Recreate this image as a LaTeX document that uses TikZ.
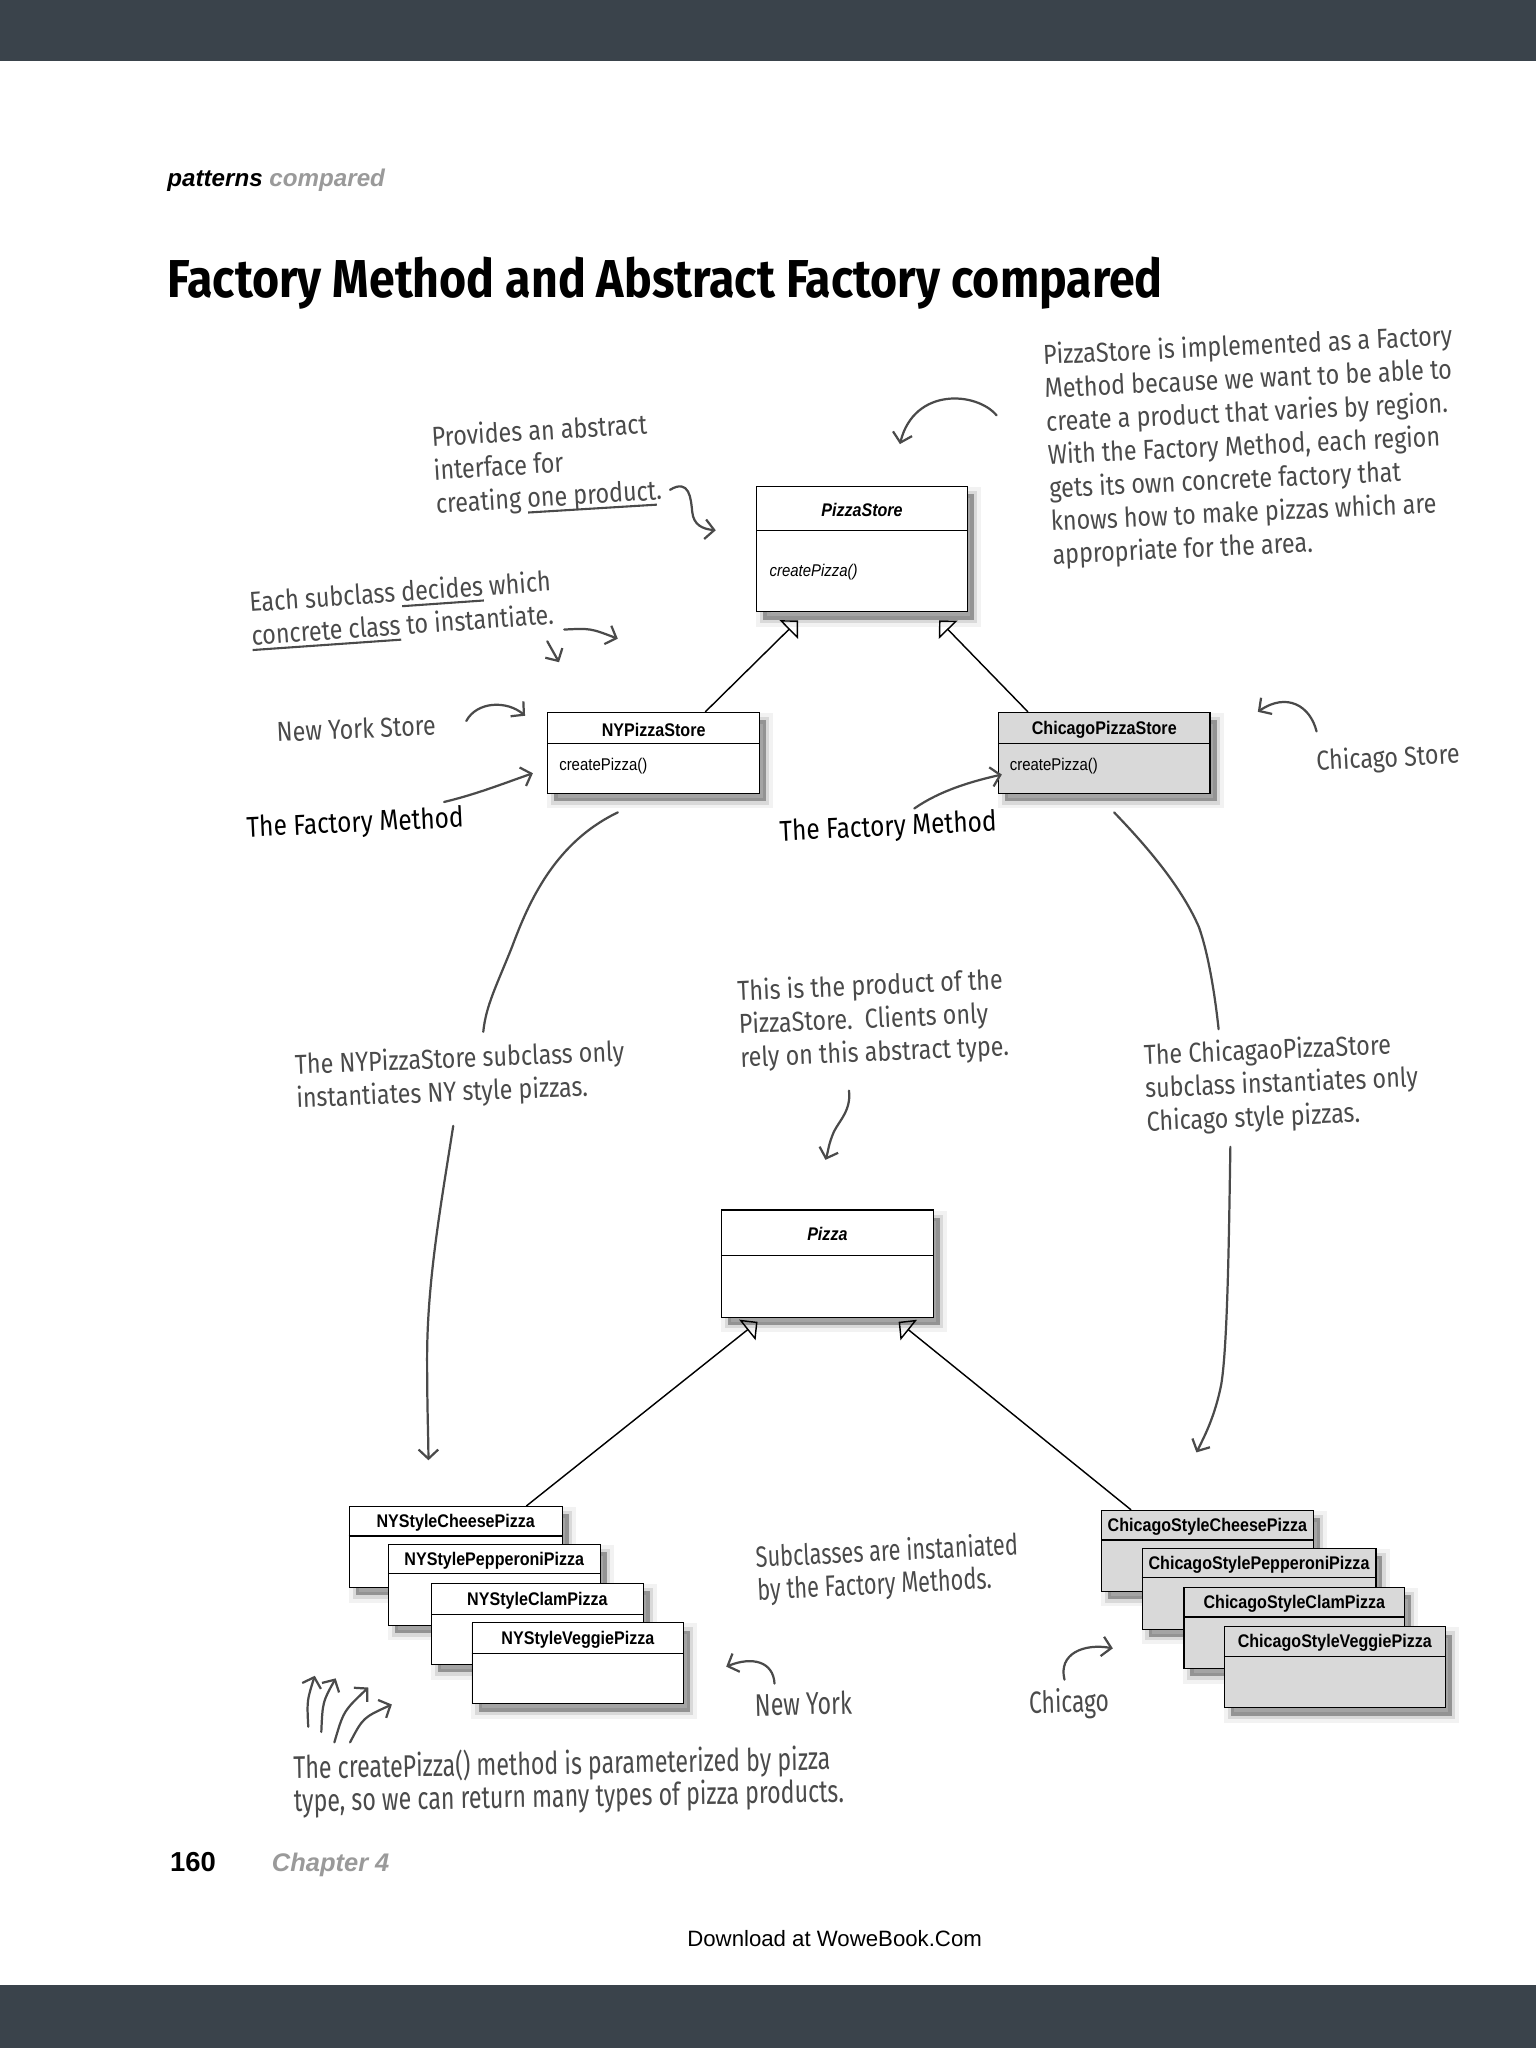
\documentclass[tikz,border=0pt]{standalone}
\usepackage{fontspec}
\usepackage{graphicx}
\setmainfont{Liberation Sans}
\newfontfamily\umlf[FakeStretch=0.88]{Liberation Sans}
\newfontfamily\handf[FakeStretch=0.85]{Fira Sans}
\newfontfamily\handn[FakeStretch=0.74]{Fira Sans}
\newfontfamily\titlef{Fira Sans}
\usetikzlibrary{arrows.meta,shadows,calc}
\definecolor{bar}{HTML}{3A434B}
\definecolor{hand}{HTML}{4A4A4A}
\definecolor{hdrgray}{HTML}{9A9A9A}
\definecolor{chi}{HTML}{D9D9D9}
\newcommand\hul[1]{\setbox0\hbox{#1}\rlap{\rule[-4.5pt]{\wd0}{1.6pt}}\box0\relax}
\newcommand\umlbox[8]{%
  \node[umlbox, fill=#7, minimum width=#4pt, minimum height=#5pt] (#1) at (#2,#3) {};
  \draw[umlline] ($(#1.north west)+(0,#6)$) -- ($(#1.north east)+(0,#6)$);
  \node[umltitle] (#1-t) at ($(#1.north)+(0,#6/2+1.5)$) {#8};
}
\begin{document}
\begin{tikzpicture}[x=1pt,y=-1pt,
  umlbox/.style={draw=black, line width=0.9pt, anchor=north west, inner sep=0pt,
    general shadow={draw=black, line width=11pt, opacity=.05, shadow xshift=5pt, shadow yshift=-6pt},
    general shadow={draw=black, line width=5pt, opacity=.10, shadow xshift=5pt, shadow yshift=-6pt},
    general shadow={fill=black, opacity=.32, shadow xshift=5pt, shadow yshift=-6pt}},
  umlline/.style={draw=black, line width=0.9pt},
  umltitle/.style={inner sep=0pt, font=\umlf\fontsize{14}{16}\selectfont\bfseries},
  umlop/.style={inner sep=0pt, anchor=base west, font=\umlf\fontsize{13}{15}\selectfont},
  inh/.style={draw=black, line width=1.1pt, -{Triangle[open, length=10pt, width=20pt, line width=1.1pt]}},
  note/.style={anchor=base west, inner sep=0pt, align=left, text=hand, font=\handf\fontsize{21}{25.5}\selectfont},
  narrow/.style={note, font=\handn\fontsize{22.5}{25}\selectfont},
  fm/.style={note, text=black, font=\handf\fontsize{22}{24}\selectfont},
  harrow/.style={draw=hand, line width=1.7pt, line cap=round, line join=round, -{Straight Barb[length=7pt, width=15pt]}},
  hline/.style={draw=hand, line width=1.7pt, line cap=round},
]
\fill[white] (0,0) rectangle (1176,1568);
\useasboundingbox (0,0) rectangle (1176,1568);
\fill[bar] (0,0) rectangle (1176,47);
\fill[bar] (0,1520) rectangle (1176,1568);

% header and title
\node[anchor=base west, inner sep=0pt, font=\fontsize{18.5}{20}\selectfont\bfseries\itshape] (hdr) at (128,143) {patterns \textcolor{hdrgray}{compared}};
\node[anchor=base west, inner sep=0pt] (title) at (128,228) {\resizebox{762pt}{31pt}{\titlef\bfseries Factory Method and Abstract Factory compared}};

% UML boxes
\umlbox{ps}{579}{372}{161}{96}{34}{white}{\itshape PizzaStore}
\node[umlop, font=\umlf\fontsize{13}{15}\selectfont\itshape] (psop) at ($(ps.north west)+(10,69)$) {createPizza()};
\umlbox{nyps}{419}{545}{162}{62}{24}{white}{NYPizzaStore}
\node[umlop] (nypsop) at ($(nyps.north west)+(9,45)$) {createPizza()};
\umlbox{cps}{764}{545}{162}{62}{24}{chi}{ChicagoPizzaStore}
\node[umlop] (cpsop) at ($(cps.north west)+(9,45)$) {createPizza()};
\umlbox{pz}{552}{926}{162}{82}{35}{white}{\itshape Pizza}

\umlbox{nyc}{267}{1153}{163}{62}{23}{white}{NYStyleCheesePizza}
\umlbox{nyp}{297}{1182}{162}{62}{23}{white}{NYStylePepperoniPizza}
\umlbox{nycl}{330}{1212}{162}{62}{24}{white}{NYStyleClamPizza}
\umlbox{nyv}{361}{1242}{162}{62}{24}{white}{NYStyleVeggiePizza}

\umlbox{cc}{843}{1156}{162}{62}{23}{chi}{ChicagoStyleCheesePizza}
\umlbox{cp}{874}{1185}{179}{62}{23}{chi}{ChicagoStylePepperoniPizza}
\umlbox{ccl}{906}{1215}{169}{62}{23}{chi}{ChicagoStyleClamPizza}
\umlbox{cv}{937}{1245}{169}{62}{23}{chi}{ChicagoStyleVeggiePizza}

% inheritance
\coordinate (tA) at (611,475);
\coordinate (tB) at (719,475);
\coordinate (tC) at (580,1012);
\coordinate (tD) at (688,1012);
\draw[inh] ($(nyps.north west)+(121,0)$) -- (tA);
\draw[inh] ($(cps.north west)+(23,0)$) -- (tB);
\draw[inh] ($(nyc.north west)+(136,0)$) -- (tC);
\draw[inh] ($(cc.north west)+(23,0)$) -- (tD);

% notes (anchor = baseline of the last line)
\node[note, rotate=3.5] (n1) at (334,393) {Provides an abstract\\interface for\\creating \hul{one product}.};
\coordinate (a1s) at (513,375); \coordinate (a1e) at (548,406);
\draw[harrow] (a1s) .. controls (528,366) and (529,382) .. (530,392) .. controls (531,402) and (538,405) .. (a1e);

\node[note, rotate=4] (n2) at (193,494) {Each subclass \hul{decides} which\\\hul{concrete class} to instantiate.};
\coordinate (a2s) at (419,491); \coordinate (a2e) at (428,507);
\draw[harrow] (a2s) -- (a2e);
\coordinate (a3s) at (432,482); \coordinate (a3e) at (473,489);
\draw[harrow] (a3s) .. controls (452,481) .. (a3e);

\node[note, rotate=2.5] (n3) at (212,568) {New York Store};
\coordinate (a4s) at (357,552); \coordinate (a4e) at (402,548);
\draw[harrow] (a4s) .. controls (365,537) and (388,536) .. (a4e);

\node[fm, rotate=2.7] (n4) at (189,641) {The Factory Method};
\coordinate (a5s) at (340,614); \coordinate (a5e) at (408,592);
\draw[harrow] (a5s) .. controls (365,608) and (385,600) .. (a5e);

\node[fm, rotate=2.7] (n5) at (597,644) {The Factory Method};
\coordinate (a6s) at (700,619); \coordinate (a6e) at (767,593);
\draw[harrow] (a6s) .. controls (720,605) and (745,598) .. (a6e);

\node[note, rotate=2.7] (n6) at (806,432) {PizzaStore is implemented as a Factory\\Method because we want to be able to\\create a product that varies by region.\\With the Factory Method, each region\\gets its own concrete factory that\\knows how to make pizzas which are\\appropriate for the area.};
\coordinate (a7s) at (763,318); \coordinate (a7e) at (689,340);
\draw[harrow] (a7s) .. controls (748,300) and (700,296) .. (a7e);

\node[note, rotate=3] (n7) at (1008,590) {Chicago Store};
\coordinate (a8s) at (1008,560); \coordinate (a8e) at (963,545);
\draw[harrow] (a8s) .. controls (1003,540) and (985,530) .. (a8e);

\node[note, rotate=2.5] (n8) at (567,817) {This is the product of the\\PizzaStore.\ \ Clients only\\rely on this abstract type.};
\coordinate (a9s) at (650,835); \coordinate (a9e) at (632,888);
\draw[harrow] (a9s) .. controls (652,852) and (640,860) .. (637,870) .. controls (634,878) and (634,882) .. (a9e);

\node[note, rotate=2.3] (n9) at (227,848) {The NYPizzaStore subclass only\\instantiates NY style pizzas.};
\coordinate (b1s) at (473,622); \coordinate (b1e) at (370,790);
\draw[hline] (b1s) .. controls (425,645) and (405,690) .. (392,725) .. controls (380,755) and (372,770) .. (b1e);
\coordinate (b2s) at (347,862); \coordinate (b2e) at (328,1118);
\draw[harrow] (b2s) .. controls (338,920) and (327,980) .. (327,1040) .. controls (327,1080) and (328,1100) .. (b2e);

\node[note, rotate=2.4] (n10) at (878,866) {The ChicagaoPizzaStore\\subclass instantiates only\\Chicago style pizzas.};
\coordinate (b3s) at (853,622); \coordinate (b3e) at (933,788);
\draw[hline] (b3s) .. controls (880,650) and (905,680) .. (918,710) .. controls (925,730) and (930,760) .. (b3e);
\coordinate (b4s) at (942,878); \coordinate (b4e) at (916,1112);
\draw[harrow] (b4s) .. controls (941,940) and (940,1030) .. (935,1060) .. controls (930,1085) and (922,1100) .. (b4e);

\node[narrow, rotate=2.8] (n11) at (580,1225) {Subclasses are instaniated\\by the Factory Methods.};
\node[narrow, font=\handn\fontsize{24}{25}\selectfont, rotate=1.5] (n12) at (578,1314) {New York};
\coordinate (c1s) at (593,1289); \coordinate (c1e) at (556,1276);
\draw[harrow] (c1s) .. controls (592,1272) and (576,1268) .. (c1e);
\node[narrow, font=\handn\fontsize{23.5}{25}\selectfont, rotate=1.5] (n13) at (788,1312) {Chicago};
\coordinate (c2s) at (815,1286); \coordinate (c2e) at (852,1262);
\draw[harrow] (c2s) .. controls (810,1266) and (830,1258) .. (c2e);

\node[narrow, font=\handn\fontsize{24}{25}\selectfont, rotate=1] (n14) at (225,1387) {The createPizza() method is parameterized by pizza\\type, so we can return many types of pizza products.};
\coordinate (d1s) at (236,1322); \coordinate (d1e) at (241,1283);
\coordinate (d2s) at (246,1326); \coordinate (d2e) at (257,1285);
\coordinate (d3s) at (256,1334); \coordinate (d3e) at (282,1292);
\coordinate (d4s) at (268,1334); \coordinate (d4e) at (300,1305);
\draw[harrow] (d1s) .. controls (235,1302) .. (d1e);
\draw[harrow] (d2s) .. controls (247,1303) .. (d2e);
\draw[harrow] (d3s) .. controls (263,1310) .. (d3e);
\draw[harrow] (d4s) .. controls (278,1315) .. (d4e);

% footer
\node[anchor=base west, inner sep=0pt, font=\fontsize{21}{24}\selectfont\bfseries] (pg) at (130,1433) {160};
\node[anchor=base west, inner sep=0pt, font=\fontsize{19.5}{22}\selectfont\bfseries\itshape, text=hdrgray] (ch) at (208,1433) {Chapter 4};
\node[anchor=base, inner sep=0pt, font=\fontsize{17}{20}\selectfont] (dl) at (639,1490) {Download at WoweBook.Com};
\end{tikzpicture}
\end{document}
